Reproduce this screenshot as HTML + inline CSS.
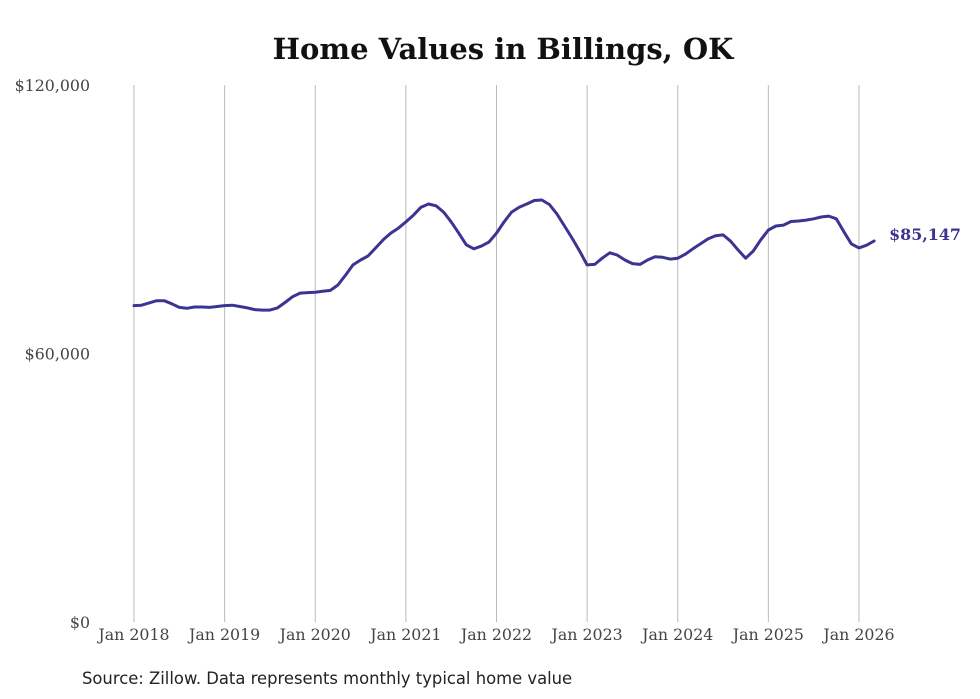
<!DOCTYPE html>
<html><head><meta charset="utf-8"><style>
body{margin:0;background:#fff;width:980px;height:699px;overflow:hidden}
svg{display:block}
</style></head><body>
<svg id="chart" width="980" height="699" xmlns="http://www.w3.org/2000/svg">
<text x="503" y="59" text-anchor="middle" font-family="'DejaVu Serif',serif" font-weight="bold" font-size="29" fill="#111">Home Values in Billings, OK</text>
<g id="grid"></g><g id="yaxis"></g><g id="xaxis"></g><g id="series"></g>
<text x="82" y="684" font-family="'DejaVu Sans',sans-serif" font-size="16.4" fill="#222">Source: Zillow. Data represents monthly typical home value</text>
</svg>
<script>
const yTicks=[0,60000,120000];
const yTickLabels=["$0","$60,000","$120,000"];
const xYears=[2018,2019,2020,2021,2022,2023,2024,2025,2026];
const xTickLabels=["Jan 2018","Jan 2019","Jan 2020","Jan 2021","Jan 2022","Jan 2023","Jan 2024","Jan 2025","Jan 2026"];
const startYear=2018;
const values=[70.7,70.8,71.3,71.8,71.8,71.1,70.3,70.1,70.4,70.4,70.3,70.5,
70.7,70.8,70.5,70.2,69.8,69.7,69.7,70.2,71.4,72.7,73.5,73.6,
73.7,73.9,74.1,75.3,77.5,79.8,80.9,81.8,83.6,85.4,86.9,88.0,
89.4,90.9,92.7,93.4,93.0,91.6,89.4,86.9,84.3,83.4,84.0,84.9,
86.9,89.4,91.6,92.7,93.4,94.2,94.3,93.3,91.2,88.5,85.8,82.9,
79.8,79.9,81.3,82.5,82.0,80.9,80.1,79.9,80.9,81.6,81.5,81.1,
81.3,82.2,83.4,84.5,85.6,86.3,86.5,85.1,83.1,81.3,82.9,85.4,
87.6,88.5,88.7,89.5,89.6,89.8,90.1,90.5,90.7,90.1,87.2,84.5,
83.6,84.2,85.147].map(v=>v*1000);
const lastLabel="$85,147";
const NS="http://www.w3.org/2000/svg";
const x=m=>134+m*(725/96);
const y=v=>622-v*(537/120000);
function mk(tag,attrs,parent,text){const e=document.createElementNS(NS,tag);for(const k in attrs)e.setAttribute(k,attrs[k]);if(text!==undefined)e.textContent=text;document.getElementById(parent).appendChild(e);return e;}
xYears.forEach((yr,i)=>{const xx=x((yr-startYear)*12);
const l=mk('line',{x1:xx,x2:xx,y1:85,y2:622,stroke:'#bbb','stroke-width':1},'grid');


const t=mk('text',{x:xx,y:640,'text-anchor':'middle','font-family':"'DejaVu Serif',serif",'font-size':15.8,fill:'#444'},'xaxis',xTickLabels[i]);

});
yTicks.forEach((v,i)=>{const t=mk('text',{x:90,y:y(v)+6,'text-anchor':'end','font-family':"'DejaVu Serif',serif",'font-size':15.8,fill:'#444'},'yaxis',yTickLabels[i]);

});
const d=values.map((v,i)=>(i?'L':'M')+x(i).toFixed(1)+','+y(v).toFixed(1)).join(' ');
const p=mk('path',{d:d,fill:'none',stroke:'#3b3591','stroke-width':3,'stroke-linejoin':'round','stroke-linecap':'round'},'series');


const n=values.length-1;
const lb=mk('text',{x:x(n)+15,y:y(values[n])-1,'font-family':"'DejaVu Serif',serif",'font-weight':'bold','font-size':15.9,fill:'#3b3591'},'series',lastLabel);


</script>
</body></html>
